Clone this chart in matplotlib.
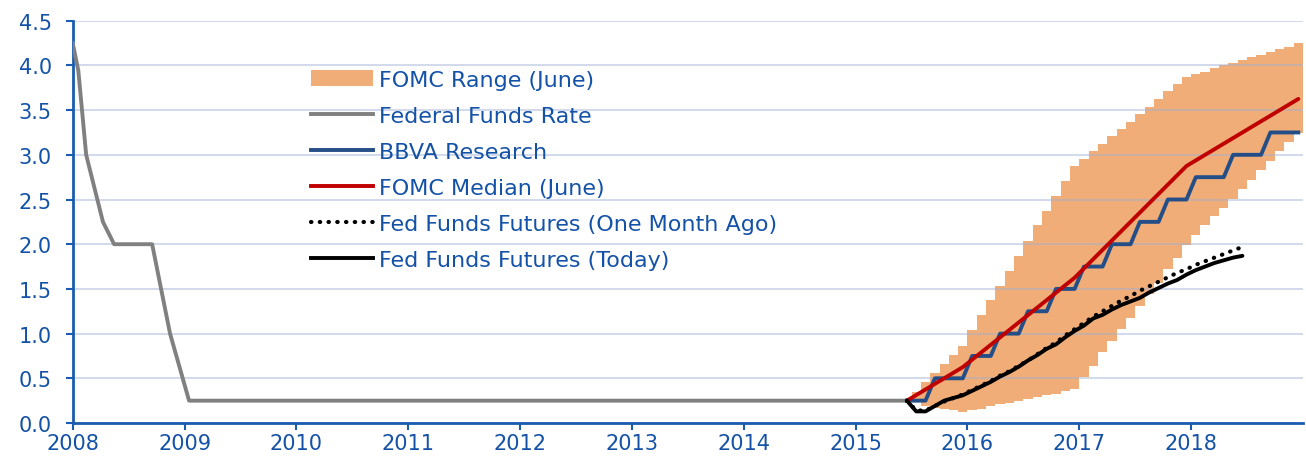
import numpy as np
import pandas as pd
import matplotlib
matplotlib.use('Agg')
import matplotlib.pyplot as plt
from matplotlib.patches import Patch
from matplotlib.lines import Line2D

# Federal funds rate (decimal years)
ffr_x = [2008.0, 2008.05, 2008.12, 2008.27, 2008.37, 2008.71, 2008.79, 2008.87, 2009.04, 2015.46]
ffr_values = [4.25, 3.94, 3.0, 2.25, 2.0, 2.0, 1.5, 1.0, 0.25, 0.25]

# monthly forecasts, Jun 2015 - Dec 2018
forecast_start = '2015-06'
bbva_values = [0.25, 0.25, 0.25, 0.5, 0.5, 0.5, 0.5,
               0.75, 0.75, 0.75, 1.0, 1.0, 1.0, 1.25, 1.25, 1.25, 1.5, 1.5, 1.5,
               1.75, 1.75, 1.75, 2.0, 2.0, 2.0, 2.25, 2.25, 2.25, 2.5, 2.5, 2.5,
               2.75, 2.75, 2.75, 2.75, 3.0, 3.0, 3.0, 3.0, 3.25, 3.25, 3.25, 3.25]

# FOMC range (June), Jul 2015 - Dec 2018
range_start = '2015-07'
range_low = [0.25, 0.19, 0.17, 0.155, 0.14, 0.125, 0.14, 0.16, 0.19, 0.21, 0.225, 0.25,
             0.27, 0.29, 0.31, 0.33, 0.36, 0.385, 0.51, 0.64, 0.79, 0.92, 1.05, 1.18,
             1.31, 1.44, 1.57, 1.72, 1.85, 1.99, 2.10, 2.21, 2.31, 2.41, 2.51, 2.62,
             2.72, 2.83, 2.93, 3.04, 3.14, 3.24]
range_high = [0.35, 0.455, 0.56, 0.66, 0.765, 0.865, 1.04, 1.21, 1.375, 1.535, 1.70, 1.87,
              2.04, 2.21, 2.375, 2.535, 2.71, 2.87, 2.95, 3.04, 3.12, 3.21, 3.29, 3.37,
              3.46, 3.54, 3.62, 3.71, 3.79, 3.87, 3.90, 3.93, 3.97, 4.00, 4.03, 4.06,
              4.09, 4.12, 4.15, 4.18, 4.21, 4.25]

# FOMC median (June)
median_months = ['2015-06', '2015-12', '2016-12', '2017-12', '2018-12']
median_values = [0.25, 0.625, 1.625, 2.875, 3.625]

# Fed funds futures, Jun 2015 - Jun 2018
futures_ago = [0.25, 0.14, 0.14, 0.19, 0.24, 0.28, 0.32, 0.37, 0.42, 0.47, 0.53, 0.58,
               0.64, 0.70, 0.77, 0.84, 0.90, 0.98, 1.05, 1.12, 1.19, 1.25, 1.31, 1.37,
               1.42, 1.48, 1.53, 1.58, 1.63, 1.68, 1.72, 1.77, 1.81, 1.85, 1.89, 1.93, 1.97]
futures_today = [0.25, 0.13, 0.13, 0.19, 0.25, 0.28, 0.31, 0.36, 0.41, 0.46, 0.52, 0.57,
                 0.63, 0.70, 0.76, 0.83, 0.88, 0.96, 1.03, 1.09, 1.17, 1.21, 1.27, 1.32,
                 1.36, 1.40, 1.46, 1.51, 1.56, 1.60, 1.66, 1.71, 1.75, 1.79, 1.82, 1.85, 1.87]

BLUE_TXT = '#1452a8'
AXIS_BLUE = '#1a5cb0'
BAND = '#f0ad78'


def month_x(periods):
    periods = pd.PeriodIndex(periods, freq='M')
    return np.asarray(periods.year + (periods.month - 0.5) / 12.0)


def monthly_x(start, n):
    return month_x(pd.period_range(start, periods=n, freq='M'))


fig = plt.figure(figsize=(13.06, 4.64), dpi=100)
ax = fig.add_axes([0.0557, 0.0862, 0.9420, 0.8670])

low = np.array(range_low)
high = np.array(range_high)
ax.bar(monthly_x(range_start, len(low)), high - low, bottom=low, width=1 / 12.0,
       color=BAND, linewidth=0, zorder=1)

ax.plot(ffr_x, ffr_values, color='#808080', lw=2.8, zorder=3)
ax.plot(monthly_x(forecast_start, len(bbva_values)), bbva_values, color='#244e87', lw=2.8, zorder=3)
ax.plot(month_x(median_months), median_values, color='#c00000', lw=2.8, zorder=4,
        solid_capstyle='round')
ax.plot(monthly_x(forecast_start, len(futures_ago)), futures_ago, color='black', lw=3,
        ls=(0, (0.1, 2.0)), dash_capstyle='round', zorder=5)
ax.plot(monthly_x(forecast_start, len(futures_today)), futures_today, color='black', lw=2.8,
        solid_capstyle='round', solid_joinstyle='round', zorder=6)

ax.set_xlim(2008, 2019)
ax.set_ylim(0, 4.5)
ax.set_xticks(range(2008, 2019))
ax.set_yticks(np.arange(0, 4.51, 0.5))
ax.set_yticklabels(['%.1f' % v for v in np.arange(0, 4.51, 0.5)])

ax.yaxis.grid(True, color='#9fb0d4', alpha=0.55, lw=1.2)
ax.set_axisbelow('line')

for s in ['top', 'right']:
    ax.spines[s].set_visible(False)
for s in ['left', 'bottom']:
    ax.spines[s].set_color(AXIS_BLUE)
    ax.spines[s].set_linewidth(2)

ax.tick_params(axis='both', colors=AXIS_BLUE, labelcolor=BLUE_TXT, labelsize=15,
               length=5, width=1.5, direction='out')
ax.tick_params(axis='y', pad=10)
ax.tick_params(axis='x', pad=2)

handles = [
    Patch(facecolor=BAND, edgecolor='none'),
    Line2D([], [], color='#808080', lw=2.8),
    Line2D([], [], color='#244e87', lw=2.8),
    Line2D([], [], color='#c00000', lw=2.8),
    Line2D([], [], color='black', lw=3, ls=(0, (0.1, 2.0)), dash_capstyle='round'),
    Line2D([], [], color='black', lw=2.8),
]
labels = ['FOMC Range (June)', 'Federal Funds Rate', 'BBVA Research', 'FOMC Median (June)',
          'Fed Funds Futures (One Month Ago)', 'Fed Funds Futures (Today)']
ax.legend(handles, labels, loc='upper left', bbox_to_anchor=(0.1935, 0.8775), frameon=False,
          fontsize=16, labelcolor=BLUE_TXT, handlelength=2.8, handletextpad=0.27,
          labelspacing=0.72, borderpad=0, borderaxespad=0)

fig.savefig('out.png', dpi=100)
